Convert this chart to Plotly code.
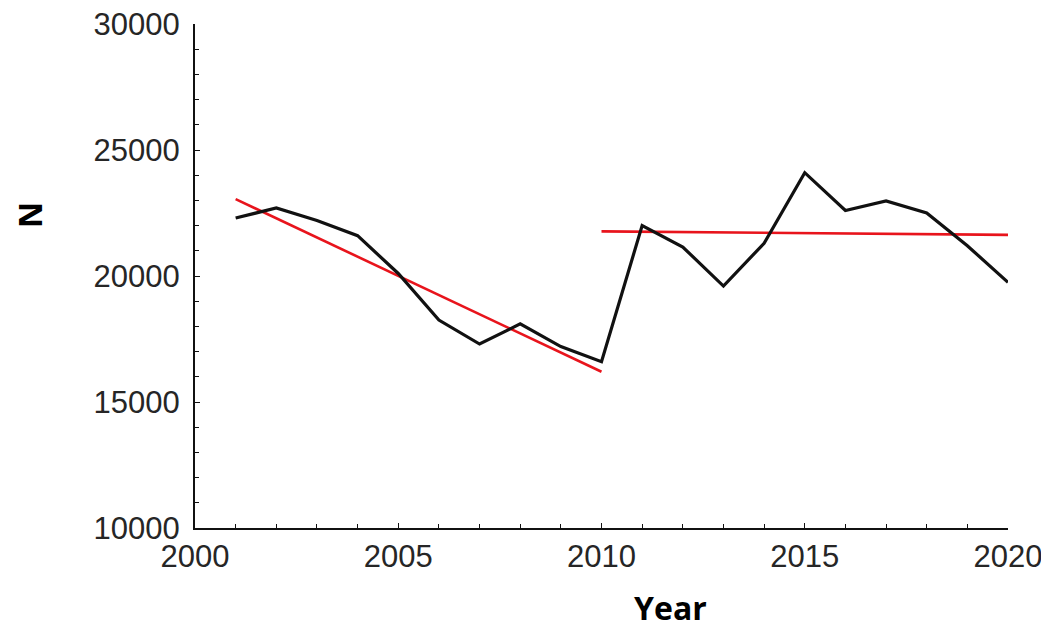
import plotly.graph_objects as go

years = [2001, 2002, 2003, 2004, 2005, 2006, 2007, 2008, 2009, 2010,
         2011, 2012, 2013, 2014, 2015, 2016, 2017, 2018, 2019, 2020]
n_values = [22300, 22700, 22200, 21600, 20100, 18250, 17300, 18100, 17200, 16600,
            22000, 21150, 19600, 21300, 24100, 22600, 22980, 22500, 21200, 19750]

trend1_years = [2001, 2010]
trend1_values = [23050, 16200]
trend2_years = [2010, 2020]
trend2_values = [21770, 21630]

x_ticks = [2000, 2005, 2010, 2015, 2020]
y_ticks = [10000, 15000, 20000, 25000, 30000]

fig = go.Figure()
fig.add_trace(go.Scatter(x=trend1_years, y=trend1_values, mode="lines",
                         line=dict(color="#e8141c", width=2.6), showlegend=False))
fig.add_trace(go.Scatter(x=trend2_years, y=trend2_values, mode="lines",
                         line=dict(color="#e8141c", width=2.6), showlegend=False))
fig.add_trace(go.Scatter(x=years, y=n_values, mode="lines",
                         line=dict(color="#111111", width=3.2), showlegend=False))

tickfont = dict(family="Liberation Sans, Arial, sans-serif", size=31, color="#262626")
fig.update_xaxes(range=[2000, 2020], tickvals=x_ticks, ticktext=[str(v) for v in x_ticks],
                 showline=True, linecolor="#111111", linewidth=2, showgrid=False, zeroline=False,
                 ticks="inside", ticklen=5, tickwidth=1, tickcolor="#111111",
                 minor=dict(dtick=1, ticks="inside", ticklen=4, tickcolor="#111111", showgrid=False),
                 tickfont=tickfont, ticklabelstandoff=0, automargin=False,
                 ticklabeloverflow="allow")
fig.update_yaxes(range=[10000, 30000], tickvals=y_ticks, ticktext=[str(v) for v in y_ticks],
                 showline=True, linecolor="#111111", linewidth=2, showgrid=False, zeroline=False,
                 ticks="inside", ticklen=5, tickwidth=1, tickcolor="#111111",
                 minor=dict(dtick=1000, ticks="inside", ticklen=4, tickcolor="#111111", showgrid=False),
                 tickfont=tickfont, ticklabelstandoff=7, automargin=False,
                 ticklabeloverflow="allow")

# page body has an 8px margin; figure coordinates are offset by it
W, H = 1041, 624
pl, pr, pt, pb = 187, 41, 16, 104
pw = W - pl - pr
ph = H - pt - pb


def px_to_paper(px, py):
    return (px - pl) / pw, (H - pb - py) / ph


yx, yy = px_to_paper(662, 600)
nx, ny = px_to_paper(21, 207)

fig.update_layout(
    width=W, height=H,
    margin=dict(l=pl, r=pr, t=pt, b=pb),
    plot_bgcolor="white", paper_bgcolor="white",
    annotations=[
        dict(text="<b>Year</b>", x=yx, y=yy, xref="paper", yref="paper", showarrow=False,
             xanchor="center", yanchor="middle",
             font=dict(family="Open Sans, sans-serif", size=32, color="black")),
        dict(text="<b>N</b>", x=nx, y=ny, xref="paper", yref="paper", showarrow=False,
             xanchor="center", yanchor="middle", textangle=-90,
             font=dict(family="Open Sans, sans-serif", size=32, color="black")),
    ],
)

fig.write_html("out.html")
